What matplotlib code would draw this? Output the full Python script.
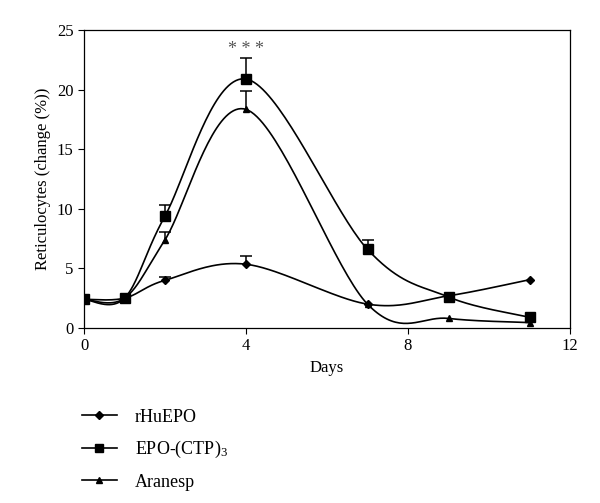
import numpy as np
import matplotlib
matplotlib.use("Agg")
import matplotlib.pyplot as plt
from matplotlib.lines import Line2D

plt.rcParams['font.family'] = ['Liberation Serif', 'DejaVu Serif']
plt.rcParams['mathtext.fontset'] = 'custom'
plt.rcParams['mathtext.rm'] = 'Liberation Serif'
plt.rcParams['mathtext.it'] = 'Liberation Serif:italic'

days = [0, 1, 2, 4, 7, 9, 11]
rhuepo = [2.4, 2.5, 4.0, 5.35, 2.0, 2.7, 4.05]
epo_ctp = [2.4, 2.5, 9.4, 20.9, 6.6, 2.6, 0.9]
aranesp = [2.4, 2.5, 7.4, 18.35, 2.0, 0.8, 0.45]

err_days = [2, 4]
rhuepo_err = [0.25, 0.65]
epo_err_days = [2, 4, 7]
epo_err = [0.95, 1.8, 0.8]
aranesp_err = [0.65, 1.55]

def catmull(x, y, n=40):
    x = np.asarray(x, float); y = np.asarray(y, float)
    px = np.concatenate([[x[0]], x, [x[-1]]])
    py = np.concatenate([[y[0]], y, [y[-1]]])
    xs, ys = [], []
    t = np.linspace(0, 1, n)
    for i in range(1, len(px) - 2):
        p0, p1, p2, p3 = (np.array([px[j], py[j]]) for j in (i - 1, i, i + 1, i + 2))
        b1 = p1 + (p2 - p0) / 6
        b2 = p2 - (p3 - p1) / 6
        pts = ((1 - t) ** 3)[:, None] * p1 + (3 * (1 - t) ** 2 * t)[:, None] * b1 \
            + (3 * (1 - t) * t ** 2)[:, None] * b2 + (t ** 3)[:, None] * p2
        xs.append(pts[:, 0]); ys.append(pts[:, 1])
    return np.concatenate(xs), np.concatenate(ys)

fig = plt.figure(figsize=(6.0, 5.03), dpi=100)
ax = fig.add_axes([0.14, 0.348, 0.81, 0.592])

series = [
    ("rHuEPO", rhuepo, 'D', 4.5),
    ("EPO-(CTP)$_3$", epo_ctp, 's', 6.5),
    ("Aranesp", aranesp, '^', 5),
]
for name, vals, m, ms in series:
    sx, sy = catmull(days, vals)
    ax.plot(sx, sy, color='black', lw=1.2)
    ax.plot(days, vals, ls='none', marker=m, ms=ms, color='black')

def upper_err(xs, allvals, errs):
    yv = np.array([allvals[days.index(x)] for x in xs])
    tops = yv + np.array(errs)
    ax.vlines(xs, yv, tops, color='black', lw=1.1)
    ax.plot(xs, tops, ls='none', marker='_', ms=8, mew=1.1, color='black')

upper_err(err_days, rhuepo, rhuepo_err)
upper_err(epo_err_days, epo_ctp, epo_err)
upper_err(err_days, aranesp, aranesp_err)

ax.text(4, 22.7, "* * *", ha='center', va='bottom', fontsize=13, color='#555555')

ax.set_xlim(0, 12)
ax.set_ylim(0, 25)
ax.set_xticks([0, 4, 8, 12])
ax.set_yticks([0, 5, 10, 15, 20, 25])
ax.tick_params(direction='out', length=4, labelsize=12)
for s in ax.spines.values():
    s.set_linewidth(0.9)
ax.set_xlabel("Days", fontsize=12)
ax.set_ylabel("Reticulocytes (change (%))", fontsize=12)

handles = [Line2D([], [], color='black', marker=m, ms=ms * 0.8, lw=1.2) for _, _, m, ms in series]
fig.legend(handles, [s[0] for s in series], loc='upper left',
           bbox_to_anchor=(0.11, 0.22), frameon=False, fontsize=13,
           handlelength=1.9, handletextpad=1.0, labelspacing=0.75)

fig.savefig("out.png", dpi=100)
